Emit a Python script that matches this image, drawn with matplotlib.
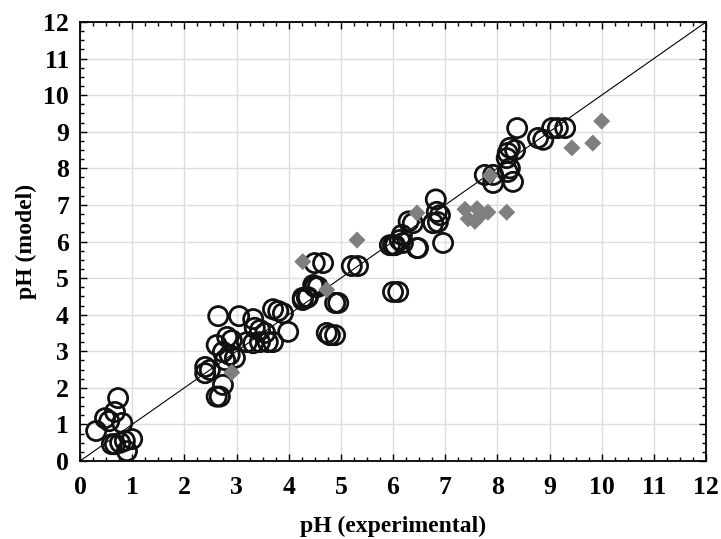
import matplotlib
matplotlib.use("Agg")
import matplotlib.pyplot as plt
from matplotlib.ticker import MultipleLocator

plt.rcParams["font.family"] = ["Liberation Serif", "DejaVu Serif"]
plt.rcParams["font.weight"] = "bold"

# --- Data ---
circle_x = [
    0.31, 0.48, 0.56, 0.73, 0.67, 0.81, 0.61, 0.67, 0.77, 0.86, 1.0, 0.9,
    2.65, 3.05, 3.32, 3.70, 3.80, 3.89, 3.99, 4.27, 4.37, 4.50, 4.73,
    3.35, 3.45, 3.55, 3.20, 3.32, 3.45, 3.60, 3.70, 2.91, 2.82, 2.62,
    2.74, 2.87, 2.97, 2.78, 2.40, 2.49, 2.40, 2.74, 2.62, 2.68,
    4.50, 4.66, 5.21, 5.33, 4.47, 4.56, 4.27, 4.35, 4.89, 4.95,
    6.00, 6.10, 4.79, 4.89,
    6.00, 6.19, 6.46, 6.84, 6.90, 6.82, 6.38, 6.30, 6.77, 6.86,
    6.17, 6.13, 5.94, 6.04, 6.48, 6.96,
    8.38, 9.05, 9.16, 9.30, 8.78, 8.88, 8.24, 8.34, 8.20, 8.18,
    8.24, 8.20, 7.76, 7.92, 7.92, 8.30,
]
circle_y = [
    0.82, 1.17, 1.09, 1.72, 1.34, 1.04, 0.46, 0.46, 0.50, 0.55, 0.60, 0.27,
    3.96, 3.96, 3.88, 4.15, 4.10, 4.04, 3.53, 4.46, 4.48, 4.76, 3.50,
    3.64, 3.58, 3.50, 3.25, 3.22, 3.25, 3.25, 3.25, 3.30, 3.39, 3.17,
    2.98, 2.90, 2.82, 2.76, 2.57, 2.49, 2.40, 2.08, 1.76, 1.76,
    5.41, 5.41, 5.33, 5.33, 4.81, 4.76, 4.40, 4.46, 4.32, 4.32,
    4.62, 4.62, 3.44, 3.44,
    5.90, 5.96, 5.82, 6.81, 6.72, 7.15, 6.50, 6.55, 6.50, 6.53,
    6.18, 6.04, 5.90, 5.90, 5.82, 5.96,
    9.10, 9.10, 9.10, 9.10, 8.83, 8.78, 8.56, 8.50, 8.42, 8.28,
    8.00, 7.90, 7.82, 7.82, 7.60, 7.63,
]

diamond_x = [2.91, 4.27, 4.73, 5.31, 6.46, 7.38, 7.44, 7.61, 7.57, 7.67,
             7.82, 8.18, 7.86, 9.43, 9.83, 10.0]
diamond_y = [2.42, 5.45, 4.68, 6.04, 6.78, 6.88, 6.62, 6.90, 6.55, 6.70,
             6.80, 6.80, 7.80, 8.56, 8.69, 9.29]

line_ends = [0, 12]

# --- Plot ---
fig = plt.figure(figsize=(7.21, 5.39), dpi=100)
ax = fig.add_axes([80 / 721, 1 - 461 / 539, 626 / 721, 439 / 539])

ax.plot(line_ends, line_ends, color="black", linewidth=0.8, zorder=2)
ax.scatter(circle_x, circle_y, s=190, facecolors="none", edgecolors="#111111",
           linewidths=2.0, zorder=3)
ax.scatter(diamond_x, diamond_y, s=75, marker="D", color="#7f7f7f",
           edgecolors="none", zorder=4)

ax.set_xlim(0, 12)
ax.set_ylim(0, 12)
ax.xaxis.set_major_locator(MultipleLocator(1))
ax.yaxis.set_major_locator(MultipleLocator(1))
ax.xaxis.set_minor_locator(MultipleLocator(0.25))
ax.yaxis.set_minor_locator(MultipleLocator(0.25))
ax.tick_params(which="both", direction="in", top=True, right=True,
               labelsize=18.5, width=1)
ax.tick_params(axis="x", which="major", pad=11)
ax.tick_params(axis="y", which="major", pad=8)
ax.tick_params(which="major", length=5)
ax.tick_params(which="minor", length=3)
ax.grid(True, which="major", color="#dddddd", linewidth=1, zorder=0)
ax.set_axisbelow(True)
for sp in ax.spines.values():
    sp.set_linewidth(1.3)

ax.set_xlabel("pH (experimental)", fontsize=17, fontweight="bold", labelpad=12)
ax.set_ylabel("pH (model)", fontsize=17, fontweight="bold", labelpad=4)

fig.savefig("out.png", dpi=100)
